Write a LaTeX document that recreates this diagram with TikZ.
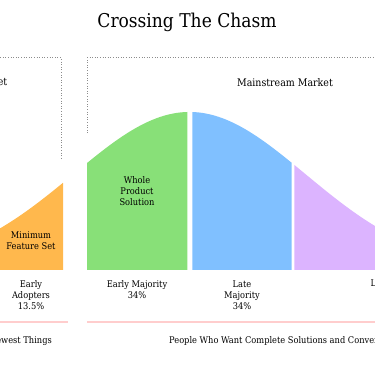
\documentclass[tikz,border=0pt]{standalone}
\usepackage{fontspec}
\setmainfont{DejaVu Serif Condensed}
\begin{document}
\begin{tikzpicture}[x=1pt,y=-1pt,
    lbl/.style={inner sep=0pt,align=center,text=black,font=\fontsize{9.2}{11}\selectfont},
    bracket/.style={color=black!45,dotted,line width=0.6pt},
    divider/.style={color=pink!90!red!60,line width=1.2pt}]
  % colors
  \definecolor{kOrange}{RGB}{255,184,77}
  \definecolor{kGreen}{RGB}{136,224,120}
  \definecolor{kBlue}{RGB}{128,192,255}
  \definecolor{kPurple}{RGB}{220,180,255}
  % frame
  \useasboundingbox (0,0) rectangle (375,366);
  \clip (0,0) rectangle (375,366);
  % title
  \node[inner sep=0pt,font=\fontsize{19}{24}\selectfont] (title) at (187,22) {Crossing The Chasm};
  % market brackets
  \draw[bracket] (-5,57.5) -- (61,57.5) -- (61,159);
  \draw[bracket] (87,133) -- (87,57.5) -- (380,57.5);
  \node[lbl,anchor=east,font=\fontsize{10.5}{14}\selectfont] (early) at (7.5,83) {Early Market};
  \node[lbl,font=\fontsize{10.5}{14}\selectfont] (mainstream) at (285,83) {Mainstream Market};
  % bell curve segments
  \foreach \a/\b/\c in {-20/63/kOrange,87/187.3/kGreen,192.3/291.7/kBlue,294.3/420/kPurple} {
    \fill[\c] (\a,270) -- plot[domain=\a:\b,samples=60] (\x,{270-158*exp(-((\x-189.5)/116)^2/2)}) -- (\b,270) -- cycle;
  };
  \node[lbl] (mfs) at (31,240.5) {Minimum\\Feature Set};
  \node[lbl] (wps) at (137,191) {Whole\\Product\\Solution};
  % segment labels
  \node[lbl] (adopters) at (31,295) {Early\\Adopters\\13.5\%};
  \node[lbl] (emajority) at (137,289.5) {Early Majority\\34\%};
  \node[lbl] (lmajority) at (242,295) {Late\\Majority\\34\%};
  \node[lbl,anchor=west] (laggards) at (370.5,284) {Laggards};
  % dividers
  \draw[divider] (-5,322) -- (68,322);
  \draw[divider] (87,322) -- (380,322);
  \node[lbl,anchor=east] (newest) at (52,341) {Newest Things};
  \node[lbl,anchor=west] (complete) at (169,341) {People Who Want Complete Solutions and Convenience};
\end{tikzpicture}
\end{document}
